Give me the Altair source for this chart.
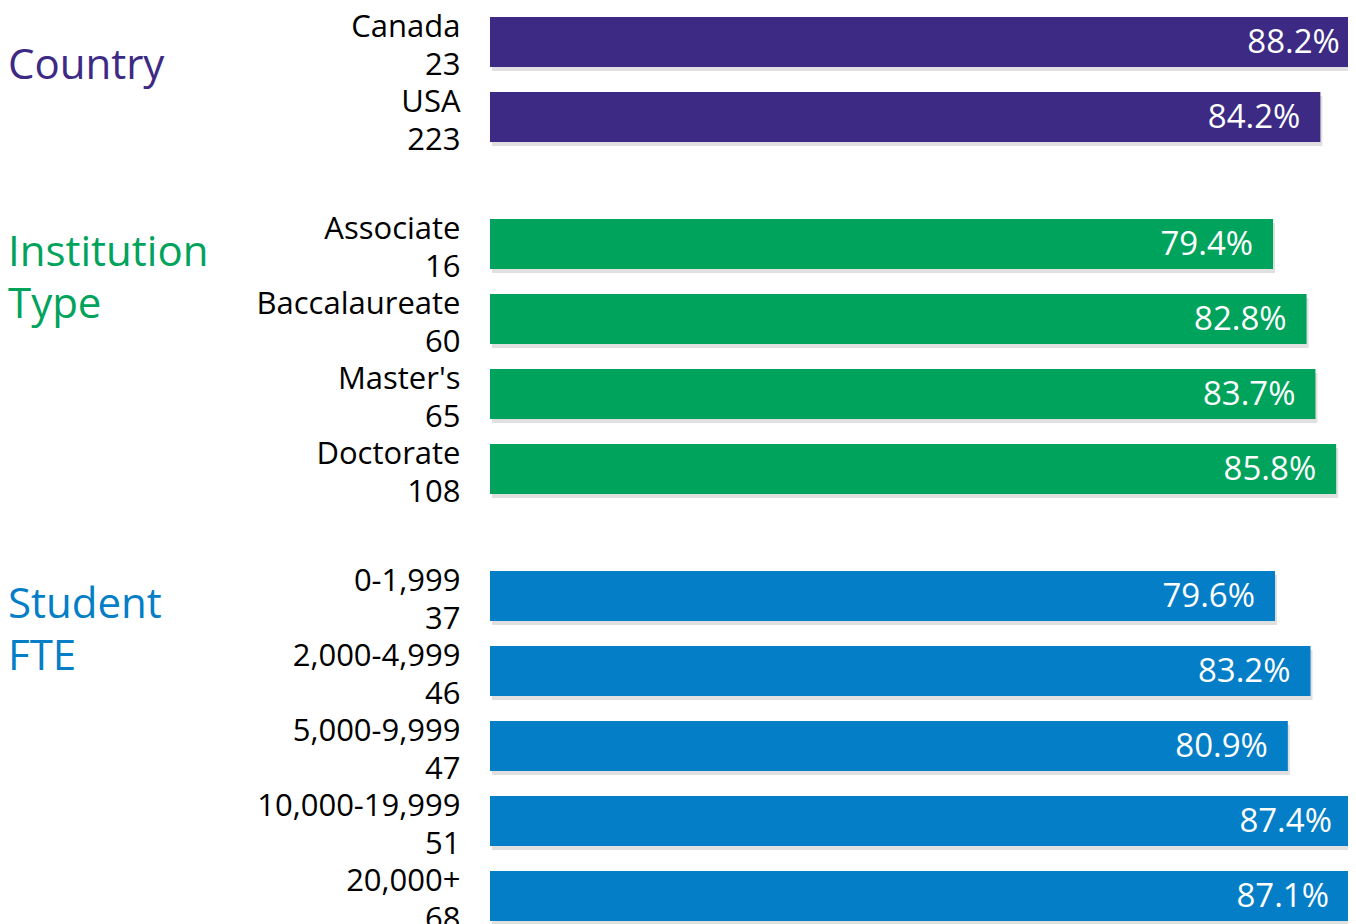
import altair as alt
import pandas as pd

FONT = "Open Sans"

country_cats = ["Canada", "USA"]
country_n = [23, 223]
country_vals = [88.2, 84.2]

inst_cats = ["Associate", "Baccalaureate", "Master's", "Doctorate"]
inst_n = [16, 60, 65, 108]
inst_vals = [79.4, 82.8, 83.7, 85.8]

fte_cats = ["0-1,999", "2,000-4,999", "5,000-9,999", "10,000-19,999", "20,000+"]
fte_n = [37, 46, 47, 51, 68]
fte_vals = [79.6, 83.2, 80.9, 87.4, 87.1]

PURPLE = "#3C2A85"
GREEN = "#00A35C"
BLUE = "#037EC7"


def panel(title, cats, ns, vals, color, title_y):
    df = pd.DataFrame({
        "label": [f"{c}\n{n}" for c, n in zip(cats, ns)],
        "value": vals,
    })
    df["text"] = df["value"].map(lambda v: f"{v:.1f}%")
    base = alt.Chart(df).encode(
        y=alt.Y(
            "label:N",
            sort=None,
            scale=alt.Scale(paddingInner=1 / 3, paddingOuter=0.12),
            axis=alt.Axis(title=None, labelExpr="split(datum.value, '\\n')"),
        ),
        x=alt.X("value:Q", scale=alt.Scale(domain=[0, 87.0]), axis=None),
    )
    shadow = base.mark_bar(color="#000000", opacity=0.12, xOffset=2, yOffset=4, clip=True)
    bars = base.mark_bar(color=color, clip=True)
    labels = base.mark_text(
        align="right", baseline="middle", dx=-20, dy=1, color="white",
        fontSize=33, font=FONT,
    ).encode(text="text:N")
    ttl = alt.Chart(pd.DataFrame({"t": [title]})).mark_text(
        align="left", baseline="alphabetic", lineBreak="\n", fontSize=42,
        font=FONT, color=color, lineHeight=52,
    ).encode(text="t:N", x=alt.value(-482), y=alt.value(title_y))
    return alt.layer(shadow, bars, labels, ttl).properties(
        width=858, height=alt.Step(75)
    )


chart = alt.vconcat(
    panel("Country", country_cats, country_n, country_vals, PURPLE, 71),
    panel("Institution\nType", inst_cats, inst_n, inst_vals, GREEN, 56),
    panel("Student\nFTE", fte_cats, fte_n, fte_vals, BLUE, 56),
    spacing=54,
).properties(padding=0).configure_view(stroke=None).configure_axis(
    labelFont=FONT,
    labelFontSize=31,
    labelColor="#000000",
    labelPadding=30,
    labelLineHeight=38,
    labelOffset=-14,
    labelLimit=400,
    ticks=False,
    domain=False,
    grid=False,
)

chart.save("out.html", embed_options={"renderer": "svg", "actions": False})
